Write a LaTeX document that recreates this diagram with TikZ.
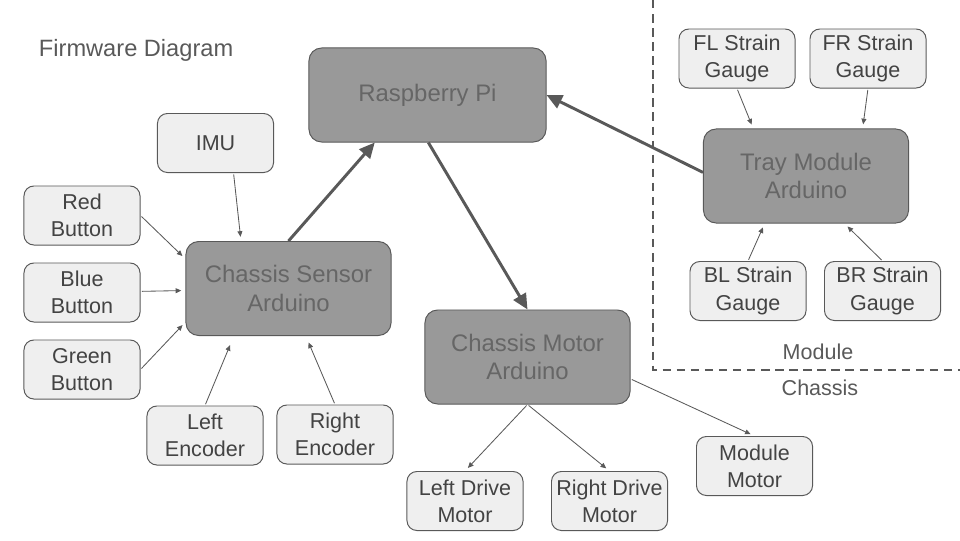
\documentclass[tikz,border=0pt]{standalone}
\usepackage{fontspec}
\setmainfont{Liberation Sans}
\usetikzlibrary{arrows.meta}
\definecolor{boardfill}{HTML}{999999}
\definecolor{boardtext}{HTML}{666666}
\definecolor{partfill}{HTML}{EFEFEF}
\definecolor{parttext}{HTML}{434343}
\definecolor{edgegray}{HTML}{595959}
\begin{document}
\begin{tikzpicture}[x=0.025cm,y=-0.025cm,
  board/.style={rounded corners=9pt,draw=edgegray,line width=0.7pt,fill=boardfill,text=boardtext,
    minimum width=5.125cm,minimum height=2.35cm,align=center,font=\fontsize{17}{20.5}\selectfont},
  part/.style={rounded corners=7pt,draw=edgegray,line width=0.7pt,fill=partfill,text=parttext,
    minimum width=2.9cm,minimum height=1.475cm,align=center,font=\fontsize{15.3}{19.3}\selectfont},
  label/.style={text=edgegray,font=\fontsize{15.3}{18}\selectfont},
  bus/.style={draw=edgegray,line width=2.1pt,-{Triangle[length=11pt,width=10pt]}},
  wire/.style={draw=edgegray,line width=0.6pt,-{Triangle[length=4pt,width=3.5pt]},shorten <=1pt,shorten >=3pt}]
\useasboundingbox (0,0) rectangle (960,540);
% boards
\node [board,minimum width=5.925cm] (rpi) at (427.5,95) {Raspberry Pi};
\node [board] (sensor) at (288.5,288.5) {Chassis Sensor\\Arduino};
\node [board] (motor) at (527.5,357) {Chassis Motor\\Arduino};
\node [board] (tray) at (806,176) {Tray Module\\Arduino};
% sensor inputs
\node [part] (imu) at (215.5,143) {IMU};
\node [part] (red) at (82,215.5) {Red\\Button};
\node [part] (blue) at (82,292.5) {Blue\\Button};
\node [part] (green) at (82,369.5) {Green\\Button};
\node [part] (lenc) at (205,435.5) {Left\\Encoder};
\node [part] (renc) at (335,434.5) {Right\\Encoder};
% motors
\node [part] (ldrive) at (465,501) {Left Drive\\Motor};
\node [part] (rdrive) at (609.5,501) {Right Drive\\Motor};
\node [part] (modmotor) at (754.5,466) {Module\\Motor};
% strain gauges
\node [part] (fl) at (737,58.5) {FL Strain\\Gauge};
\node [part] (fr) at (868,58.5) {FR Strain\\Gauge};
\node [part] (bl) at (748,291) {BL Strain\\Gauge};
\node [part] (br) at (882.5,291) {BR Strain\\Gauge};
% texts
\node [label,font=\fontsize{16.8}{19}\selectfont,anchor=base west] (title) at (34,56) {Firmware Diagram};
\node [label] (module) at (818,352) {Module};
\node [label] (chassis) at (820,388) {Chassis};
% module boundary
\coordinate (top) at (653,0);
\coordinate (corner) at (653,370);
\coordinate (right) at (960,370);
\draw [edgegray,line width=1pt,dash pattern=on 6pt off 4pt] (top) -- (corner) -- (right);
% main links
\draw [bus] (sensor.north) -- (rpi.222);
\draw [bus] (rpi.-89) -- (motor.north);
\draw [bus] (tray.178) -- (rpi.east);
% sensor wires
\draw [wire] (imu.-59) -- (sensor.135);
\draw [wire] (red.east) -- (sensor.164);
\draw [wire] (blue) -- (sensor);
\draw [wire] (green.east) -- (sensor.198);
\draw [wire,shorten >=7pt] (lenc.north) -- (sensor.221);
\draw [wire,shorten >=5pt] (renc.north) -- (sensor.-70);
% gauge wires
\draw [wire] (fl.south) -- (tray.138);
\draw [wire] (fr.south) -- (tray.40);
\draw [wire] (bl.north) -- (tray.229);
\draw [wire] (br.north) -- (tray.-51);
% motor wires
\draw [wire] (motor.south) -- (ldrive.north);
\draw [wire] (motor.south) -- (rdrive.north);
\draw [wire] (motor.-12) -- (modmotor.north);
\end{tikzpicture}
\end{document}
